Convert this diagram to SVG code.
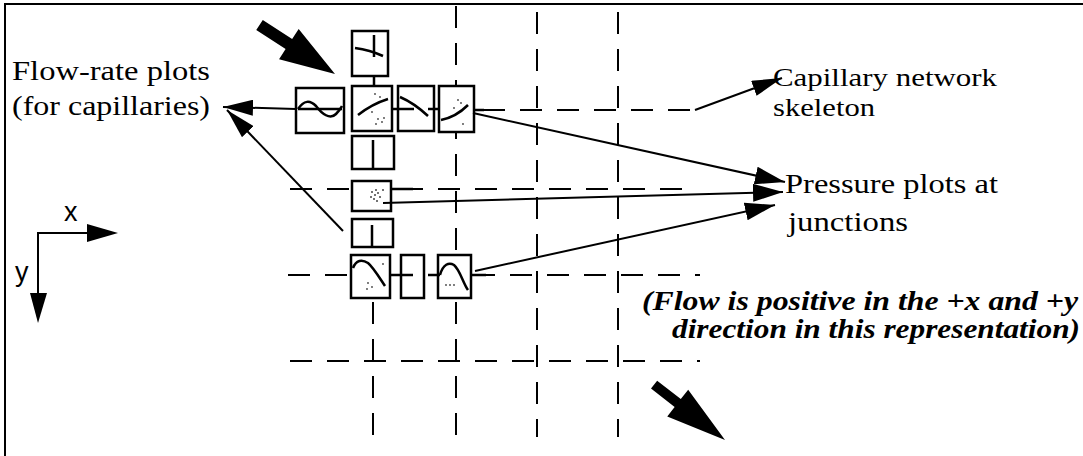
<svg xmlns="http://www.w3.org/2000/svg" width="1083" height="456" viewBox="0 0 1083 456">
<defs>
<style>
.frame{stroke:#000;stroke-width:2;fill:none}
.grid{stroke:#000;stroke-width:2;stroke-dasharray:22 15;fill:none}
.box{fill:#fff;stroke:#000;stroke-width:2.5}
.curve{fill:none;stroke:#000;stroke-width:2.5}
.seg{stroke:#000;stroke-width:2.5;fill:none}
.conn{stroke:#000;stroke-width:2;fill:none}
.dot{fill:#444}
.serif{font-family:"Liberation Serif","Times New Roman",serif;font-size:28px;fill:#000}
.serif26{font-family:"Liberation Serif","Times New Roman",serif;font-size:26px;fill:#000}
.bi{font-family:"Liberation Serif","Times New Roman",serif;font-size:27px;font-weight:bold;font-style:italic;fill:#000}
.sans{font-family:"Liberation Sans",Arial,sans-serif;font-size:27px;fill:#000}
</style>
<marker id="ah" viewBox="0 0 30 16" refX="30" refY="8" markerWidth="30" markerHeight="16" markerUnits="userSpaceOnUse" orient="auto">
<path d="M0,0 L30,8 L0,16 z" fill="#000"/>
</marker>
<marker id="ahs" viewBox="0 0 30 18" refX="30" refY="9" markerWidth="30" markerHeight="18" markerUnits="userSpaceOnUse" orient="auto">
<path d="M0,0 L30,9 L0,18 z" fill="#000"/>
</marker>
</defs>
<rect width="1083" height="456" fill="#fff"/>
<path class="frame" d="M5,456 L5,4 L1083,4"/>

<g id="grid">
<line class="grid" x1="483" y1="110" x2="690" y2="110"/>
<line class="grid" x1="290" y1="189" x2="697" y2="189"/>
<line class="grid" x1="288" y1="275" x2="700" y2="275"/>
<line class="grid" x1="290" y1="361" x2="700" y2="361"/>
<line class="grid" x1="373" y1="302" x2="373" y2="437"/>
<line class="grid" x1="456" y1="6" x2="456" y2="437"/>
<line class="grid" x1="537" y1="12" x2="537" y2="437"/>
<line class="grid" x1="618" y1="12" x2="618" y2="437"/>
</g>

<g id="box-top">
<rect class="box" x="352" y="31" width="36" height="45"/>
<path class="curve" d="M355,48 Q370,50 383,56"/>
<line class="seg" x1="374" y1="35" x2="374" y2="57"/>
</g>
<g id="box-wave">
<rect class="box" x="296" y="88" width="48" height="45"/>
<line class="seg" x1="298" y1="109" x2="342" y2="109"/>
<path class="curve" d="M298,109 C304,100 310,100 316,106 C322,114 330,120 336,114 C339,111 341,108 342,106"/>
</g>
<g id="box-center">
<rect class="box" x="352" y="86" width="40" height="45"/>
<path class="curve" d="M358,115 Q372,104 388,99"/>
<circle class="dot" cx="375" cy="94" r="0.9"/><circle class="dot" cx="380" cy="97" r="0.9"/><circle class="dot" cx="378" cy="119" r="0.9"/><circle class="dot" cx="382" cy="122" r="0.9"/><circle class="dot" cx="376" cy="124" r="0.9"/><circle class="dot" cx="384" cy="118" r="0.9"/><circle class="dot" cx="372" cy="112" r="0.9"/>
</g>
<g id="box-3">
<rect class="box" x="398" y="86" width="36" height="45"/>
<path class="curve" d="M400,97 Q414,103 428,116"/>
</g>
<g id="box-4">
<rect class="box" x="439" y="86" width="35" height="46"/>
<path class="curve" d="M441,120 Q456,117 468,105"/>
<circle class="dot" cx="458" cy="100" r="0.9"/><circle class="dot" cx="461" cy="103" r="0.9"/><circle class="dot" cx="454" cy="108" r="0.9"/><circle class="dot" cx="463" cy="124" r="0.9"/>
</g>
<g id="box-5">
<rect class="box" x="352" y="136" width="42" height="33"/>
<line class="seg" x1="373" y1="140" x2="373" y2="169"/>
</g>
<g id="box-junction">
<rect class="box" x="352" y="181" width="39" height="30"/>
<circle class="dot" cx="372" cy="192" r="1"/><circle class="dot" cx="375" cy="195" r="1"/><circle class="dot" cx="378" cy="193" r="1"/><circle class="dot" cx="374" cy="199" r="1"/><circle class="dot" cx="377" cy="201" r="1"/><circle class="dot" cx="380" cy="197" r="1"/><circle class="dot" cx="371" cy="197" r="1"/><circle class="dot" cx="383" cy="190" r="1"/><circle class="dot" cx="376" cy="190" r="1"/>
</g>
<g id="box-7">
<rect class="box" x="352" y="219" width="41" height="28"/>
<line class="seg" x1="372" y1="225" x2="372" y2="247"/>
</g>
<g id="box-bell-a">
<rect class="box" x="351" y="255" width="39" height="43"/>
<path class="curve" d="M353,268 C356,260 362,259 368,263 C373,267 379,277 385,286"/>
<circle class="dot" cx="383" cy="264" r="0.9"/><circle class="dot" cx="368" cy="283" r="0.9"/><circle class="dot" cx="372" cy="287" r="0.9"/><circle class="dot" cx="367" cy="289" r="0.9"/>
</g>
<g id="box-small">
<rect class="box" x="401" y="255" width="23" height="43"/>
</g>
<g id="box-bell-b">
<rect class="box" x="438" y="255" width="33" height="43"/>
<path class="curve" d="M440,275 C443,264 449,262 454,265 C460,270 463,283 468,290"/>
<circle class="dot" cx="446" cy="285" r="0.9"/><circle class="dot" cx="450" cy="285" r="0.9"/><circle class="dot" cx="454" cy="285" r="0.9"/>
</g>

<g id="connectors">
<line class="seg" x1="374" y1="76" x2="374" y2="86"/>
<line class="seg" x1="392" y1="109" x2="414" y2="109"/>
<line class="seg" x1="428" y1="109" x2="439" y2="109"/>
<line class="seg" x1="474" y1="110" x2="484" y2="110"/>
<line class="seg" x1="391" y1="189" x2="413" y2="189"/>
<line class="seg" x1="390" y1="275" x2="413" y2="275"/>
<line class="seg" x1="428" y1="275" x2="440" y2="275"/>
<line class="seg" x1="471" y1="275" x2="486" y2="275"/>
<line class="conn" x1="296" y1="109" x2="223" y2="107" marker-end="url(#ah)"/>
<line class="conn" x1="343" y1="231" x2="227" y2="110" marker-end="url(#ah)"/>
<line class="conn" x1="473" y1="113" x2="785" y2="182" marker-end="url(#ahs)"/>
<line class="conn" x1="383" y1="203" x2="783" y2="192" marker-end="url(#ahs)"/>
<line class="conn" x1="475" y1="271" x2="775" y2="205" marker-end="url(#ahs)"/>
<line class="conn" x1="695" y1="110" x2="782" y2="78" marker-end="url(#ah)"/>
<line class="conn" x1="38" y1="233" x2="38" y2="300"/>
<line class="conn" x1="37" y1="233" x2="95" y2="233"/>
<path d="M87,224 L118,233 L87,242 z" fill="#000"/>
<path d="M30,293 L38,323 L47,293 z" fill="#000"/>
</g>

<g id="big-arrows">
<polygon points="-90,-6 -55,-6 -55,-18 0,0 -55,18 -55,6 -90,6" fill="#000" transform="translate(335,74) rotate(33)"/>
<polygon points="-90,-5 -60,-5 -60,-17 0,0 -60,17 -60,5 -90,5" fill="#000" transform="translate(725,440) rotate(38)"/>
</g>

<g id="labels">
<text class="serif" x="12" y="80" textLength="198" lengthAdjust="spacingAndGlyphs">Flow-rate plots</text>
<text class="serif" x="12" y="115" textLength="198" lengthAdjust="spacingAndGlyphs">(for capillaries)</text>
<text class="serif26" x="773" y="86" textLength="224" lengthAdjust="spacingAndGlyphs">Capillary network</text>
<text class="serif26" x="773" y="116" textLength="102" lengthAdjust="spacingAndGlyphs">skeleton</text>
<text class="serif" x="785" y="193" textLength="213" lengthAdjust="spacingAndGlyphs">Pressure plots at</text>
<text class="serif" x="788" y="231" textLength="120" lengthAdjust="spacingAndGlyphs">junctions</text>
<text class="bi" x="642" y="310" textLength="436" lengthAdjust="spacingAndGlyphs">(Flow is positive in the +x and +y</text>
<text class="bi" x="672" y="338" textLength="408" lengthAdjust="spacingAndGlyphs">direction in this representation)</text>
<text class="sans" x="64" y="221">x</text>
<text class="sans" x="15" y="281">y</text>
</g>
</svg>
